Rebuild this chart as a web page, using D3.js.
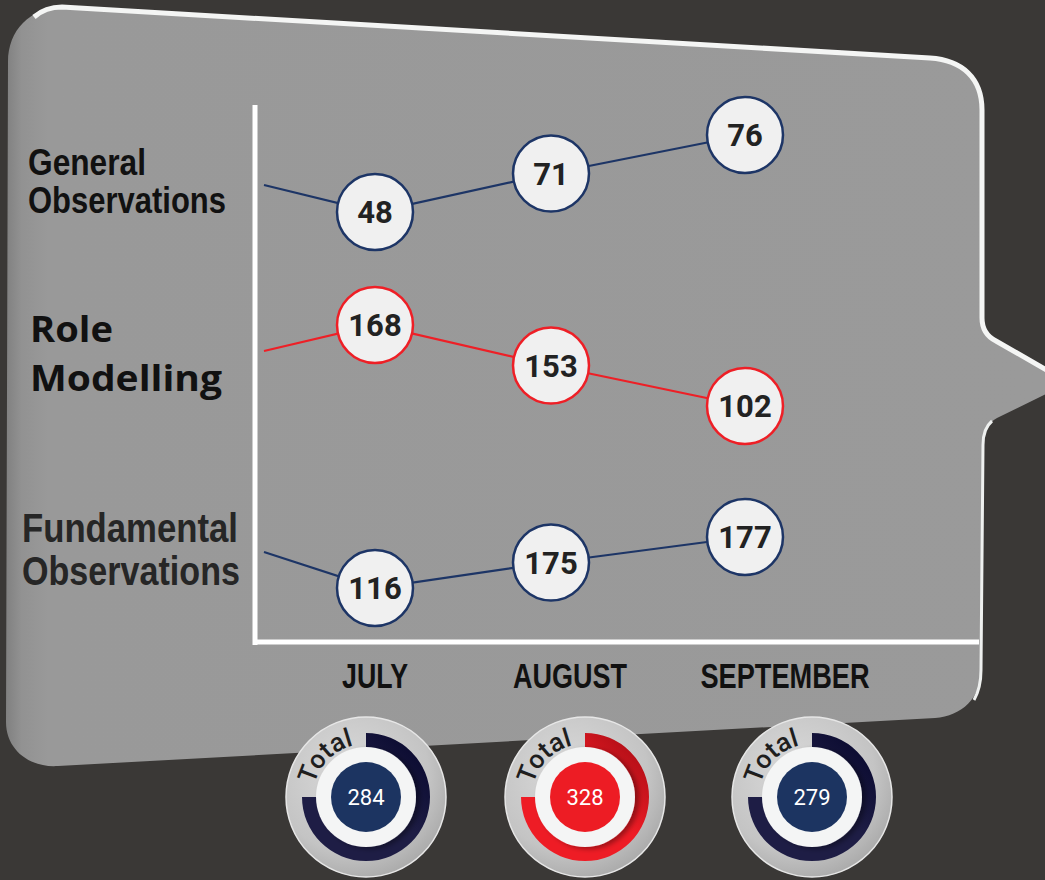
<!DOCTYPE html>
<html>
<head>
<meta charset="utf-8">
<script src="https://cdn.jsdelivr.net/npm/d3@7"></script>
<style>
  html, body { margin: 0; padding: 0; background: #3a3836; }
  svg { display: block; }
</style>
</head>
<body>
<svg width="1045" height="880"></svg>
<script>
// data
const months = ["JULY", "AUGUST", "SEPTEMBER"];
const rowNames = ["General Observations", "Role Modelling", "Fundamental Observations"];
const generalObs = [48, 71, 76];
const roleModelling = [168, 153, 102];
const fundamentalObs = [116, 175, 177];
const totals = [284, 328, 279];

const navy = "#1d3566", red = "#ee1f26";

// layout for each row (lines of label, band where the nodes sit)
const rows = [
  {values: generalObs, color: navy, top: 135, bottom: 212, leadY: 185,
   label: [{t: "General", y: 175, w: 118}, {t: "Observations", y: 213, w: 198}],
   lx: 28, size: 36, font: "'Liberation Sans', Arial, sans-serif", fill: "#111"},
  {values: roleModelling, color: red, top: 325, bottom: 406, leadY: 351,
   label: [{t: "Role", y: 342, w: 83}, {t: "Modelling", y: 391, w: 192}],
   lx: 30, size: 36, font: "'Open Sans', 'DejaVu Sans', sans-serif", fill: "#111"},
  {values: fundamentalObs, color: navy, top: 537, bottom: 588, leadY: 552,
   label: [{t: "Fundamental", y: 542, w: 216}, {t: "Observations", y: 585, w: 218}],
   lx: 22, size: 40, font: "'Liberation Sans', Arial, sans-serif", fill: "#262626"}
];
const monthLabelW = [66, 114, 169];

var svg = d3.select("svg"),
    width = +svg.attr("width"),
    height = +svg.attr("height");

var defs = svg.append("defs");

var pg = defs.append("linearGradient").attr("id", "panelGrad")
    .attr("x1", 0).attr("x2", 1).attr("y1", 0).attr("y2", 0);
pg.append("stop").attr("offset", "0%").attr("stop-color", "#808080");
pg.append("stop").attr("offset", "1.5%").attr("stop-color", "#929292");
pg.append("stop").attr("offset", "4%").attr("stop-color", "#999999");
pg.append("stop").attr("offset", "100%").attr("stop-color", "#9a9a9a");

var dg = defs.append("radialGradient").attr("id", "discGrad")
    .attr("cx", "40%").attr("cy", "35%").attr("r", "70%");
dg.append("stop").attr("offset", "0%").attr("stop-color", "#dadada");
dg.append("stop").attr("offset", "70%").attr("stop-color", "#c4c4c4");
dg.append("stop").attr("offset", "100%").attr("stop-color", "#a8a8a8");

function arcGrad(id, dark, base) {
  var g = defs.append("linearGradient").attr("id", id)
      .attr("x1", 1).attr("y1", 0).attr("x2", 0).attr("y2", 1);
  g.append("stop").attr("offset", "0%").attr("stop-color", dark);
  g.append("stop").attr("offset", "45%").attr("stop-color", base);
  g.append("stop").attr("offset", "100%").attr("stop-color", base);
}
arcGrad("arcNavy", "#05052a", "#1e1d45");
arcGrad("arcRed", "#9e0a12", "#ee1c25");

var sh = defs.append("filter").attr("id", "shadow")
    .attr("x", "-30%").attr("y", "-30%").attr("width", "160%").attr("height", "160%");
sh.append("feDropShadow").attr("dx", 4).attr("dy", 2).attr("stdDeviation", 2.5)
    .attr("flood-color", "#000").attr("flood-opacity", 0.35);

// background
svg.append("rect").attr("width", width).attr("height", height).attr("fill", "#3a3836");

// speech-bubble panel
svg.append("path")
    .attr("d", "M8,62 C8,30 30,8 62,7 L930,58 C962,60 982,78 982,110 L982,318 " +
               "C982,330 988,337 996,341 L1050,372 L1050,392 L997,418 " +
               "C988,423 983,432 983,445 L981,670 C981,698 962,716 935,718 " +
               "L58,766 C30,768 6,750 6,722 Z")
    .attr("fill", "url(#panelGrad)");

svg.append("path")
    .attr("d", "M34,17 C42,10 52,7 62,7 L930,58 C962,60 982,78 982,110 L982,318 " +
               "C982,330 988,337 996,341 L1050,372")
    .attr("fill", "none").attr("stroke", "#f4f5f4").attr("stroke-width", 5);
svg.append("path")
    .attr("d", "M992,421 C986,426 983,434 983,445 L981,670 C981,685 978,693 974,700")
    .attr("fill", "none").attr("stroke", "#eef0ef").attr("stroke-width", 3);

// axes frame
svg.append("line").attr("x1", 255).attr("x2", 255).attr("y1", 105).attr("y2", 645)
    .attr("stroke", "#fff").attr("stroke-width", 5);
svg.append("line").attr("x1", 253).attr("x2", 979).attr("y1", 642).attr("y2", 642)
    .attr("stroke", "#fff").attr("stroke-width", 5);

// month positions (columns are not evenly spaced in the picture)
var x = d3.scaleOrdinal().domain(months).range([375, 551, 745]);
var monthX = d3.scaleOrdinal().domain(months).range([375, 570, 785]);
var totalX = d3.scaleOrdinal().domain(months).range([366, 585, 812]);

// month labels
svg.append("g").selectAll("text")
    .data(months)
    .enter().append("text")
    .attr("x", function(d) { return monthX(d); })
    .attr("y", 688)
    .attr("text-anchor", "middle")
    .attr("textLength", function(d, i) { return monthLabelW[i]; })
    .attr("lengthAdjust", "spacingAndGlyphs")
    .attr("font-family", "'Liberation Sans', Arial, sans-serif")
    .attr("font-weight", "bold")
    .attr("font-size", 35)
    .attr("fill", "#111")
    .text(function(d) { return d; });

var lineGen = d3.line().x(function(d) { return d.x; }).y(function(d) { return d.y; });

rows.forEach(function(row, ri) {
  // nodes sit by their rank inside the row band
  var yr = d3.scalePoint().domain(d3.sort(row.values)).range([row.bottom, row.top]);
  var pts = row.values.map(function(v, i) { return {x: x(months[i]), y: yr(v), v: v}; });

  var g = svg.append("g").attr("class", "row");

  g.selectAll("text.label")
    .data(row.label)
    .enter().append("text")
    .attr("class", "label")
    .attr("x", row.lx).attr("y", function(d) { return d.y; })
    .attr("textLength", function(d) { return d.w; })
    .attr("lengthAdjust", "spacingAndGlyphs")
    .attr("font-family", row.font)
    .attr("font-weight", "bold")
    .attr("font-size", row.size)
    .attr("fill", row.fill)
    .text(function(d) { return d.t; });

  g.append("path")
    .attr("d", lineGen([{x: 264, y: row.leadY}].concat(pts)))
    .attr("fill", "none").attr("stroke", row.color).attr("stroke-width", 2.2);

  var node = g.selectAll("g.node")
    .data(pts)
    .enter().append("g")
    .attr("class", "node")
    .attr("transform", function(d) { return "translate(" + d.x + "," + d.y + ")"; });

  node.append("circle").attr("r", 38)
    .attr("fill", "#f0f0f0").attr("stroke", row.color).attr("stroke-width", 2.5);
  node.append("text")
    .attr("text-anchor", "middle")
    .attr("dy", "0.36em")
    .attr("font-family", "Roboto, 'Open Sans', sans-serif")
    .attr("font-weight", "bold")
    .attr("font-size", 31)
    .attr("fill", "#222")
    .text(function(d) { return d.v; });
});

// total badges
var maxTotal = d3.max(totals);
var ring = d3.arc().innerRadius(49).outerRadius(64).startAngle(0).endAngle(Math.PI * 1.5);

var badge = svg.append("g").selectAll("g")
    .data(totals)
    .enter().append("g")
    .attr("transform", function(d, i) { return "translate(" + totalX(months[i]) + ",797)"; });

badge.append("circle").attr("r", 80).attr("fill", "url(#discGrad)")
    .attr("stroke", "#e6e6e6").attr("stroke-width", 1.5);
badge.append("path").attr("d", ring())
    .attr("fill", function(d) { return d === maxTotal ? "url(#arcRed)" : "url(#arcNavy)"; });
badge.append("circle").attr("r", 50).attr("fill", "#f4f5f5").attr("filter", "url(#shadow)");
badge.append("circle").attr("r", 35)
    .attr("fill", function(d) { return d === maxTotal ? "#ed1c24" : "#1c3461"; });
badge.append("text")
    .attr("text-anchor", "middle").attr("dy", "0.36em")
    .attr("font-family", "Roboto, 'Open Sans', sans-serif")
    .attr("font-size", 22)
    .attr("fill", "#fff")
    .text(function(d) { return d; });

badge.append("path")
    .attr("id", function(d, i) { return "totalPath" + i; })
    .attr("d", "M-53,0 A53,53 0 0,1 0,-53")
    .attr("fill", "none");
badge.append("text")
    .attr("font-family", "Roboto, 'Open Sans', sans-serif")
    .attr("font-weight", 500)
    .attr("font-size", 26)
    .attr("fill", "#1e1e1e")
    .append("textPath")
    .attr("href", function(d, i) { return "#totalPath" + i; })
    .attr("startOffset", "50%")
    .attr("text-anchor", "middle")
    .text("Total");
</script>
</body>
</html>
